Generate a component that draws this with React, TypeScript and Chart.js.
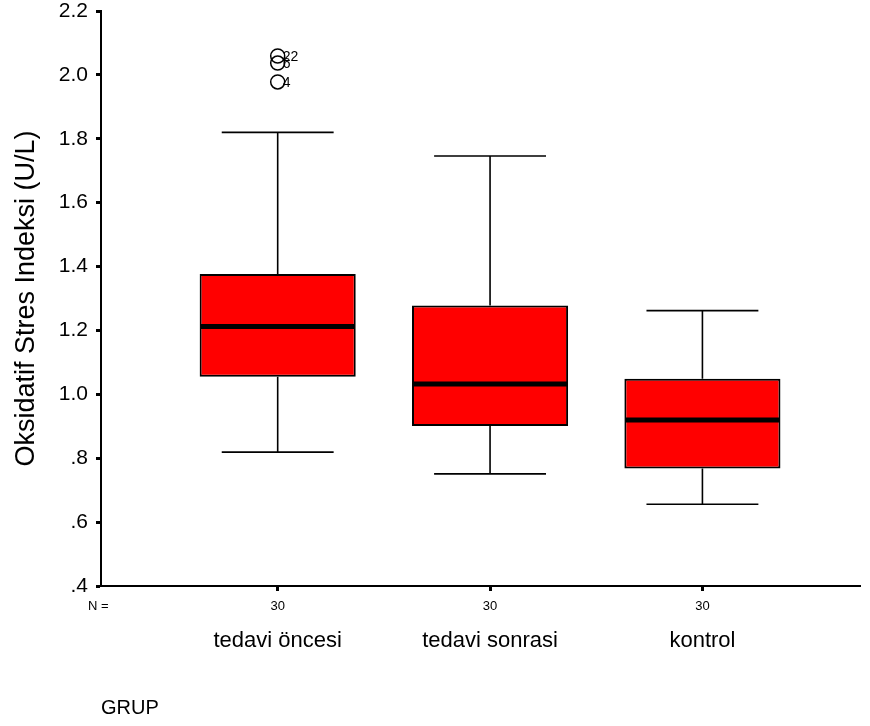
import { useEffect, useRef } from 'react';
import { Chart, registerables } from 'chart.js';

Chart.register(...registerables);

// ---- data ----
const CATEGORIES = ['tedavi öncesi', 'tedavi sonrasi', 'kontrol'];
const COUNTS = [30, 30, 30];
const WHISKER_LOW = [0.819, 0.751, 0.656];
const Q1 = [1.055, 0.901, 0.768];
const MEDIAN = [1.212, 1.032, 0.92];
const Q3 = [1.377, 1.278, 1.049];
const WHISKER_HIGH = [1.82, 1.746, 1.262];
const OUTLIER_GROUP = [0, 0, 0];
const OUTLIER_VALUES = [2.059, 2.037, 1.978];
const OUTLIER_LABELS = ['22', '6', '4'];
const Y_TICKS = [0.4, 0.6, 0.8, 1.0, 1.2, 1.4, 1.6, 1.8, 2.0, 2.2];
const Y_TICK_LABELS = ['.4', '.6', '.8', '1.0', '1.2', '1.4', '1.6', '1.8', '2.0', '2.2'];
const Y_TITLE = 'Oksidatif Stres Indeksi (U/L)';
const X_TITLE = 'GRUP';
const N_LABEL = 'N =';

const FONT = "'Liberation Sans', Arial, sans-serif";
const BOX_WIDTH = 0.735; // in category units
const CAP_WIDTH = 0.527;

const boxPlugin = {
  id: 'boxExtras',
  afterDatasetsDraw(chart: any) {
    const { ctx, scales, chartArea } = chart;
    const x = scales.x;
    const y = scales.y;
    ctx.save();
    ctx.strokeStyle = '#000';
    for (let i = 0; i < CATEGORIES.length; i++) {
      const cx = x.getPixelForValue(i);
      const capL = x.getPixelForValue(i - CAP_WIDTH / 2);
      const capR = x.getPixelForValue(i + CAP_WIDTH / 2);
      const boxL = x.getPixelForValue(i - BOX_WIDTH / 2);
      const boxR = x.getPixelForValue(i + BOX_WIDTH / 2);
      const yLo = y.getPixelForValue(WHISKER_LOW[i]);
      const yHi = y.getPixelForValue(WHISKER_HIGH[i]);
      const yQ1 = y.getPixelForValue(Q1[i]);
      const yQ3 = y.getPixelForValue(Q3[i]);
      const yMed = y.getPixelForValue(MEDIAN[i]);
      ctx.lineWidth = 1.6;
      ctx.beginPath();
      ctx.moveTo(cx, yQ3);
      ctx.lineTo(cx, yHi);
      ctx.moveTo(cx, yQ1);
      ctx.lineTo(cx, yLo);
      ctx.moveTo(capL, yHi);
      ctx.lineTo(capR, yHi);
      ctx.moveTo(capL, yLo);
      ctx.lineTo(capR, yLo);
      ctx.stroke();
      ctx.lineWidth = 5;
      ctx.beginPath();
      ctx.moveTo(boxL + 1, yMed);
      ctx.lineTo(boxR - 1, yMed);
      ctx.stroke();
    }
    // outlier labels
    ctx.fillStyle = '#000';
    ctx.font = `14px ${FONT}`;
    ctx.textAlign = 'left';
    ctx.textBaseline = 'middle';
    for (let k = 0; k < OUTLIER_VALUES.length; k++) {
      const px = x.getPixelForValue(OUTLIER_GROUP[k]);
      const py = y.getPixelForValue(OUTLIER_VALUES[k]);
      ctx.fillText(OUTLIER_LABELS[k], px + 5, py + 1);
    }
    // N counts
    ctx.font = `13px ${FONT}`;
    ctx.textAlign = 'left';
    const nY = chartArea.bottom + 20;
    ctx.fillText(N_LABEL, chartArea.left - 13, nY);
    ctx.textAlign = 'center';
    for (let i = 0; i < COUNTS.length; i++) {
      ctx.fillText(String(COUNTS[i]), x.getPixelForValue(i), nY);
    }
    ctx.restore();
  },
};

export default function App() {
  const ref = useRef<HTMLCanvasElement | null>(null);

  useEffect(() => {
    document.body.style.margin = '0';
    const canvas = ref.current;
    if (!canvas) return;
    const chart = new Chart(canvas, {
      type: 'bar',
      data: {
        datasets: [
          {
            type: 'bar',
            data: CATEGORIES.map((_, i) => ({ x: i, y: [Q1[i], Q3[i]] })) as any,
            backgroundColor: '#ff0000',
            borderColor: '#000000',
            borderWidth: 2,
            borderSkipped: false,
            categoryPercentage: 1,
            barPercentage: BOX_WIDTH,
          } as any,
          {
            type: 'scatter',
            data: OUTLIER_VALUES.map((v, k) => ({ x: OUTLIER_GROUP[k], y: v })),
            pointStyle: 'circle',
            pointRadius: 7,
            pointBackgroundColor: 'rgba(0,0,0,0)',
            pointBorderColor: '#000',
            pointBorderWidth: 1.5,
            showLine: false,
          } as any,
        ],
      },
      options: {
        animation: false,
        responsive: false,
        maintainAspectRatio: false,
        layout: { padding: { top: 11, left: 0, right: 10, bottom: 0 } },
        plugins: {
          legend: { display: false },
          tooltip: { enabled: false },
        },
        scales: {
          x: {
            type: 'linear',
            offset: false,
            min: -0.832,
            max: 2.742,
            afterBuildTicks: (scale: any) => {
              scale.ticks = CATEGORIES.map((_, i) => ({ value: i }));
            },
            afterFit: (scale: any) => {
              scale.height = 140;
              scale.paddingLeft = 0;
              scale.paddingRight = 0;
            },
            grid: {
              offset: false,
              drawOnChartArea: false,
              drawTicks: true,
              tickLength: 5,
              tickWidth: 3,
              color: '#000',
            },
            border: { display: true, color: '#000', width: 2 },
            ticks: {
              autoSkip: false,
              maxRotation: 0,
              padding: 37,
              color: '#000',
              font: { family: FONT, size: 22 },
              callback: (v: any) => CATEGORIES[Math.round(Number(v))] ?? '',
            },
            title: {
              display: true,
              text: X_TITLE,
              align: 'start',
              color: '#000',
              font: { family: FONT, size: 20 },
              padding: { top: 0, bottom: 6 },
            },
          },
          y: {
            type: 'linear',
            min: 0.4,
            max: 2.2,
            afterBuildTicks: (scale: any) => {
              scale.ticks = Y_TICKS.map((v) => ({ value: v }));
            },
            afterFit: (scale: any) => {
              scale.width = 101;
              scale.paddingTop = 0;
              scale.paddingBottom = 0;
            },
            grid: {
              drawOnChartArea: false,
              drawTicks: true,
              tickLength: 5,
              tickWidth: 3,
              color: '#000',
            },
            border: { display: true, color: '#000', width: 2 },
            ticks: {
              padding: 8,
              color: '#000',
              font: { family: FONT, size: 21, lineHeight: 1 },
              callback: (_v: any, idx: number) => Y_TICK_LABELS[idx],
            },
            title: {
              display: true,
              text: Y_TITLE,
              color: '#000',
              font: { family: FONT, size: 27 },
              padding: { top: 10, bottom: 0 },
            },
          },
        },
      },
      plugins: [boxPlugin],
    } as any);
    return () => chart.destroy();
  }, []);

  return (
    <div style={{ width: 870, height: 726, background: '#fff' }}>
      <canvas ref={ref} width={870} height={726} style={{ display: 'block', width: 870, height: 726 }} />
    </div>
  );
}
